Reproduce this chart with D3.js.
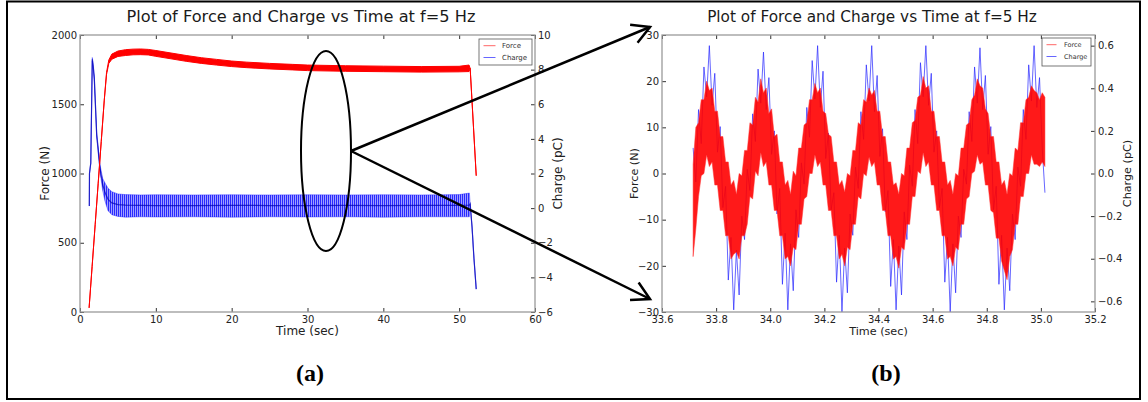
<!DOCTYPE html>
<html>
<head>
<meta charset="utf-8">
<script src="https://cdn.jsdelivr.net/npm/d3@7"></script>
<style>
  body { margin: 0; background: #fff; }
  svg { display: block; font-family: "DejaVu Sans", sans-serif; }
  .tick text { fill: #222; font-size: 10px; font-family: "DejaVu Sans", sans-serif; }
  .tick line { stroke: #333; }
</style>
</head>
<body>
<svg id="canvas"></svg>
<script>
const WIDTH = 1148;
const HEIGHT = 402;

// ---- panel (a): whole test ----
const ticksAx = [0, 10, 20, 30, 40, 50, 60];
const ticksAforce = [0, 500, 1000, 1500, 2000];
const ticksAcharge = [-6, -4, -2, 0, 2, 4, 6, 8, 10];

const forceATime = [1.2, 1.6, 2.0, 2.4, 2.8, 3.2, 3.5, 3.8, 4.2, 5, 6, 7, 8, 9, 10, 12, 14, 16, 18, 20, 22, 25, 28, 30, 35, 40, 45, 50, 51.3, 51.45, 52.25];
const forceAUpper = [30, 330, 630, 930, 1230, 1530, 1730, 1820, 1862, 1884, 1894, 1898, 1899, 1896, 1888, 1870, 1852, 1836, 1824, 1812, 1804, 1795, 1788, 1783, 1778, 1775, 1772, 1774, 1783, 1760, 984];
const forceALower = [30, 330, 630, 930, 1230, 1530, 1715, 1795, 1825, 1845, 1852, 1857, 1858, 1856, 1846, 1828, 1810, 1795, 1783, 1772, 1764, 1755, 1748, 1743, 1738, 1735, 1732, 1734, 1736, 1760, 984];

const chargeATime = [1.23, 1.25, 1.42, 1.62, 1.75, 1.89, 2.2, 2.64, 3.0, 3.3, 3.7, 4.2, 5.0, 6.0, 8, 10, 15, 20, 25, 30, 35, 40, 45, 50, 51.35, 51.45, 51.7, 51.95, 52.25];
const chargeAUpper = [0.12, 2.0, 2.6, 8.7, 8.3, 7.6, 4.4, 2.5, 1.7, 1.45, 1.15, 0.95, 0.82, 0.78, 0.76, 0.77, 0.76, 0.77, 0.76, 0.77, 0.76, 0.77, 0.76, 0.78, 0.87, 0.25, -1.1, -2.9, -4.68];
const chargeALower = [0.12, 2.0, 2.6, 8.5, 8.0, 7.3, 4.1, 2.1, 1.0, 0.4, -0.15, -0.38, -0.48, -0.52, -0.5, -0.51, -0.5, -0.52, -0.5, -0.51, -0.5, -0.52, -0.5, -0.5, -0.5, 0.25, -1.1, -2.9, -4.68];
const chargeAMid = [0.12, 2.0, 2.6, 8.6, 8.15, 7.45, 4.25, 2.3, 1.35, 0.9, 0.5, 0.3, 0.2, 0.17, 0.16, 0.15, 0.15, 0.16, 0.15, 0.15, 0.16, 0.15, 0.16, 0.16, 0.18, 0.25, -1.1, -2.9, -4.68];

// ---- panel (b): zoom 33.7 - 35.0 s ----
const ticksBx = [33.6, 33.8, 34.0, 34.2, 34.4, 34.6, 34.8, 35.0, 35.2];
const ticksBforce = [-30, -20, -10, 0, 10, 20, 30];
const ticksBcharge = [-0.6, -0.4, -0.2, 0.0, 0.2, 0.4, 0.6];

const zoomTime = [
  33.715, 33.725, 33.735, 33.745, 33.755, 33.765, 33.775, 33.785, 33.795, 33.805,
  33.815, 33.825, 33.835, 33.845, 33.855, 33.865, 33.875, 33.885, 33.895, 33.905,
  33.915, 33.925, 33.935, 33.945, 33.955, 33.965, 33.975, 33.985, 33.995, 34.005,
  34.015, 34.025, 34.035, 34.045, 34.055, 34.065, 34.075, 34.085, 34.095, 34.105,
  34.115, 34.125, 34.135, 34.145, 34.155, 34.165, 34.175, 34.185, 34.195, 34.205,
  34.215, 34.225, 34.235, 34.245, 34.255, 34.265, 34.275, 34.285, 34.295, 34.305,
  34.315, 34.325, 34.335, 34.345, 34.355, 34.365, 34.375, 34.385, 34.395, 34.405,
  34.415, 34.425, 34.435, 34.445, 34.455, 34.465, 34.475, 34.485, 34.495, 34.505,
  34.515, 34.525, 34.535, 34.545, 34.555, 34.565, 34.575, 34.585, 34.595, 34.605,
  34.615, 34.625, 34.635, 34.645, 34.655, 34.665, 34.675, 34.685, 34.695, 34.705,
  34.715, 34.725, 34.735, 34.745, 34.755, 34.765, 34.775, 34.785, 34.795, 34.805,
  34.815, 34.825, 34.835, 34.845, 34.855, 34.865, 34.875, 34.885, 34.895, 34.905,
  34.915, 34.925, 34.935, 34.945, 34.955, 34.965, 34.975, 34.985, 34.995, 35.005,
  35.015
];
const zoomCharge = [
  0.12, -0.04, 0.30, 0.14, 0.50, 0.36, 0.60, 0.32, 0.47, 0.10,
  0.22, -0.16, -0.06, -0.50, -0.30, -0.64, -0.36, -0.57, -0.20, -0.31,
  0.02, -0.08, 0.28, 0.15, 0.49, 0.33, 0.57, 0.30, 0.45, 0.09,
  0.20, -0.19, -0.07, -0.52, -0.28, -0.64, -0.33, -0.55, -0.17, -0.30,
  0.05, -0.05, 0.31, 0.17, 0.53, 0.35, 0.60, 0.31, 0.48, 0.07,
  0.19, -0.17, -0.09, -0.51, -0.29, -0.65, -0.35, -0.56, -0.19, -0.29,
  0.03, -0.07, 0.29, 0.16, 0.51, 0.34, 0.60, 0.29, 0.46, 0.08,
  0.21, -0.18, -0.08, -0.53, -0.31, -0.64, -0.34, -0.57, -0.18, -0.31,
  0.04, -0.06, 0.30, 0.14, 0.52, 0.36, 0.60, 0.32, 0.47, 0.10,
  0.20, -0.16, -0.07, -0.51, -0.30, -0.65, -0.33, -0.56, -0.20, -0.30,
  0.02, -0.05, 0.29, 0.15, 0.50, 0.33, 0.59, 0.30, 0.46, 0.09,
  0.22, -0.17, -0.06, -0.52, -0.29, -0.64, -0.35, -0.55, -0.19, -0.31,
  0.03, -0.06, 0.30, 0.16, 0.51, 0.34, 0.60, 0.31, 0.45, 0.12,
  -0.09
];
const zoomForceUpper = [
  2, 10, 11, 16, 16, 20, 18, 18.5, 13.5, 13.5,
  8, 8, 2.5, 2.5, -2.5, -1.5, -4.5, 0, -0.5, 5,
  5, 11, 10.5, 16.5, 15.5, 20.5, 17.5, 18.5, 13, 14,
  8, 8.5, 2.5, 2.5, -2.5, -1.5, -4.5, 0.5, -0.5, 5.5,
  5.5, 10.5, 11, 16, 16, 19.5, 17.5, 18.5, 13.5, 13,
  8.5, 8, 2.5, 2.5, -2.5, -1.5, -4, 0, -0.5, 5,
  5, 11, 10.5, 16, 15.5, 18.5, 17, 18, 13.5, 13.5,
  8, 8, 2.5, 2.5, -2.5, -2, -4.5, 0, -0.5, 5.5,
  5.5, 11, 11.5, 16.5, 17, 21, 18.5, 19, 13.5, 13.5,
  8, 8, 2.5, 2.5, -2.5, -1.5, -4.5, 0, -0.5, 5.5,
  5.5, 10.5, 11, 16, 17, 20.5, 19, 18.5, 14, 13,
  8, 8, 2.5, 2.5, -2.5, -1.5, -4.5, 0, -0.5, 5.5,
  5, 11, 11, 16, 16.5, 19, 18, 17.5, 16, 17.5,
  16.5
];
const zoomForceLower = [
  -18, -12, -5, -0.5, 0, 4, 1.5, 2.5, -2.5, -2.5,
  -8, -8, -13.5, -13.5, -18.5, -17.5, -17, -18.5, -13.5, -13.5,
  -11, -5, -5.5, 0.5, -0.5, 4.5, 1.5, 2.5, -2.5, -2.5,
  -8, -8, -13.5, -13.5, -18.5, -18, -20, -16, -16.5, -11,
  -11, -5.5, -5, 0, 0, 4, 1.5, 2.5, -2.5, -2.5,
  -8, -8, -13.5, -13.5, -18.5, -17.5, -20, -16, -16.5, -11,
  -11, -5, -5.5, 0, -0.5, 3.5, 1.5, 2.5, -2.5, -2.5,
  -8, -8, -13.5, -13.5, -18.5, -18, -20.5, -16, -16.5, -11,
  -11, -5, -5, 0.5, 0, 4.5, 1.5, 2.5, -2.5, -2.5,
  -8, -8, -13.5, -13.5, -18.5, -18, -20, -16, -16.5, -11,
  -11, -5.5, -5, 0, 0.5, 4, 2, 2.5, -2.5, -2.5,
  -8, -8.5, -14, -14, -19, -21, -23, -18, -16.5, -11,
  -11, -5, -5, 0, 0, 4, 2, 2, 1.5, 2.5,
  1.5
];

const TITLE = "Plot of Force and Charge vs Time at f=5 Hz";

const canvas = d3.select("#canvas").attr("width", WIDTH).attr("height", HEIGHT);

const defs = canvas.append("defs");
const hatch = defs.append("pattern")
  .attr("id", "blueHatch")
  .attr("patternUnits", "userSpaceOnUse")
  .attr("width", 2)
  .attr("height", 10);
hatch.append("rect").attr("width", 2).attr("height", 10).attr("fill", "#a0a0ff");
hatch.append("rect").attr("width", 1).attr("height", 10).attr("fill", "#2a2aff");

// panel geometry
const panelA = {
  x: d3.scaleLinear().domain([0, 60]).range([80, 535]),
  yL: d3.scaleLinear().domain([0, 2000]).range([312, 35]),
  yR: d3.scaleLinear().domain([-6, 10]).range([312, 35]),
  xTicks: ticksAx, yLTicks: ticksAforce, yRTicks: ticksAcharge,
  xFmt: d3.format("d"), yLFmt: d3.format("d"), yRFmt: d3.format("d"),
  titleX: 301, titleSize: 16.2, labelSize: 12,
  xLabelY: 335, forceLabelX: 49, chargeLabelX: 562,
  legendFont: 7, legend: { x: 479, y: 39, w: 53, h: 26, line: 12, text: 502 },
  tag: "(a)", tagX: 310,
};
const panelB = {
  x: d3.scaleLinear().domain([33.6, 35.2]).range([662, 1095]),
  yL: d3.scaleLinear().domain([-30, 30]).range([312, 35]),
  yR: d3.scaleLinear().domain([-0.65, 0.65]).range([312, 35]),
  xTicks: ticksBx, yLTicks: ticksBforce, yRTicks: ticksBcharge,
  xFmt: d3.format(".1f"), yLFmt: d3.format("d"), yRFmt: d3.format(".1f"),
  titleX: 872, titleSize: 15.3, labelSize: 11.2,
  xLabelY: 335, forceLabelX: 638, chargeLabelX: 1131,
  legendFont: 6.5, legend: { x: 1042, y: 38, w: 49, h: 28, line: 10, text: 1064 },
  tag: "(b)", tagX: 886,
};

const drawAxes = (p) => {
  const [x0, x1] = p.x.range();
  const [yb, yt] = p.yL.range();

  const gx = canvas.append("g")
    .attr("transform", `translate(0, ${yb})`)
    .call(d3.axisBottom(p.x).tickValues(p.xTicks).tickFormat(p.xFmt).tickSize(-4).tickPadding(4));
  const gt = canvas.append("g")
    .attr("transform", `translate(0, ${yt})`)
    .call(d3.axisTop(p.x).tickValues(p.xTicks).tickFormat("").tickSize(-4));
  const gl = canvas.append("g")
    .attr("transform", `translate(${x0}, 0)`)
    .call(d3.axisLeft(p.yL).tickValues(p.yLTicks).tickFormat(p.yLFmt).tickSize(-4).tickPadding(3));
  const gr = canvas.append("g")
    .attr("transform", `translate(${x1}, 0)`)
    .call(d3.axisRight(p.yR).tickValues(p.yRTicks).tickFormat(p.yRFmt).tickSize(-4).tickPadding(3));
  [gx, gt, gl, gr].forEach((g) => g.select(".domain").remove());

  canvas.append("rect")
    .attr("x", x0).attr("y", yt)
    .attr("width", x1 - x0).attr("height", yb - yt)
    .attr("fill", "none").attr("stroke", "#9a9a9a").attr("stroke-width", 1.3);

  canvas.append("text")
    .attr("x", p.titleX).attr("y", 22)
    .attr("text-anchor", "middle")
    .attr("font-size", p.titleSize).attr("fill", "#1a1a1a")
    .text(TITLE);

  canvas.append("text")
    .attr("x", (x0 + x1) / 2).attr("y", p.xLabelY)
    .attr("text-anchor", "middle")
    .attr("font-size", p.labelSize).attr("fill", "#222")
    .text("Time (sec)");

  canvas.append("text")
    .attr("transform", `translate(${p.forceLabelX}, ${(yb + yt) / 2}) rotate(-90)`)
    .attr("text-anchor", "middle")
    .attr("font-size", p.labelSize).attr("fill", "#222")
    .text("Force (N)");

  canvas.append("text")
    .attr("transform", `translate(${p.chargeLabelX}, ${(yb + yt) / 2}) rotate(-90)`)
    .attr("text-anchor", "middle")
    .attr("font-size", p.labelSize).attr("fill", "#222")
    .text("Charge (pC)");

  canvas.append("text")
    .attr("x", p.tagX).attr("y", 381)
    .attr("text-anchor", "middle")
    .attr("font-family", "'Liberation Serif', 'Times New Roman', serif")
    .attr("font-weight", "bold")
    .attr("font-size", 24)
    .attr("fill", "#000")
    .text(p.tag);
};

const drawLegend = (p) => {
  const L = p.legend;
  const g = canvas.append("g");
  g.append("rect")
    .attr("x", L.x).attr("y", L.y).attr("width", L.w).attr("height", L.h)
    .attr("fill", "#fff").attr("stroke", "#555").attr("stroke-width", 0.8);
  const rows = [
    { name: "Force", color: "#ff0000" },
    { name: "Charge", color: "#0000ff" },
  ];
  rows.forEach((r, i) => {
    const cy = L.y + 6.7 + i * 11.8;
    g.append("line")
      .attr("x1", L.x + 4.5).attr("x2", L.x + 4.5 + L.line)
      .attr("y1", cy).attr("y2", cy)
      .attr("stroke", r.color).attr("stroke-opacity", 0.6).attr("stroke-width", 1);
    g.append("text")
      .attr("x", L.text).attr("y", cy + p.legendFont * 0.36)
      .attr("font-size", p.legendFont).attr("fill", "#333")
      .text(r.name);
  });
};

const drawPanelA = () => {
  const p = panelA;
  const idxF = d3.range(forceATime.length);
  const idxC = d3.range(chargeATime.length);

  const chargeArea = d3.area()
    .x((i) => p.x(chargeATime[i]))
    .y0((i) => p.yR(chargeALower[i]))
    .y1((i) => p.yR(chargeAUpper[i]));
  canvas.append("path")
    .attr("d", chargeArea(idxC))
    .attr("fill", "url(#blueHatch)")
    .attr("stroke", "#2020ff").attr("stroke-width", 0.8).attr("stroke-opacity", 0.55);
  canvas.append("path")
    .attr("d", d3.line().x((i) => p.x(chargeATime[i])).y((i) => p.yR(chargeAMid[i]))(idxC))
    .attr("fill", "none").attr("stroke", "#0000b0").attr("stroke-width", 1.2).attr("stroke-opacity", 0.7);

  const forceArea = d3.area()
    .x((i) => p.x(forceATime[i]))
    .y0((i) => p.yL(forceALower[i]))
    .y1((i) => p.yL(forceAUpper[i]));
  canvas.append("path")
    .attr("d", forceArea(idxF))
    .attr("fill", "#ff0000")
    .attr("stroke", "#ff0000").attr("stroke-width", 1);
};

const drawPanelB = () => {
  const p = panelB;
  const idx = d3.range(zoomTime.length);

  canvas.append("path")
    .attr("d", d3.line().x((i) => p.x(zoomTime[i])).y((i) => p.yR(zoomCharge[i]))(idx))
    .attr("fill", "none")
    .attr("stroke", "#2a2aff").attr("stroke-width", 0.9).attr("stroke-opacity", 0.8);

  const forceArea = d3.area()
    .x((i) => p.x(zoomTime[i]))
    .y0((i) => p.yL(zoomForceLower[i]))
    .y1((i) => p.yL(zoomForceUpper[i]));
  canvas.append("path")
    .attr("d", forceArea(idx))
    .attr("fill", "#ff0000").attr("fill-opacity", 0.9)
    .attr("stroke", "#ff3030").attr("stroke-width", 1).attr("stroke-opacity", 0.5);
};

// ellipse around 30-35 s and the two zoom arrows
const drawAnnotation = () => {
  const g = canvas.append("g").attr("fill", "none").attr("stroke", "#000");
  g.append("ellipse")
    .attr("cx", 326).attr("cy", 151).attr("rx", 25).attr("ry", 100)
    .attr("stroke-width", 2);
  const start = [351, 151];
  [[650, 27], [650, 299]].forEach((tip) => {
    const ang = Math.atan2(start[1] - tip[1], start[0] - tip[0]);
    const spread = 29 * Math.PI / 180;
    const len = 20;
    const b1 = [tip[0] + len * Math.cos(ang + spread), tip[1] + len * Math.sin(ang + spread)];
    const b2 = [tip[0] + len * Math.cos(ang - spread), tip[1] + len * Math.sin(ang - spread)];
    g.append("line")
      .attr("x1", start[0]).attr("y1", start[1]).attr("x2", tip[0]).attr("y2", tip[1])
      .attr("stroke-width", 2.5);
    g.append("path")
      .attr("d", `M${b1[0]},${b1[1]}L${tip[0]},${tip[1]}L${b2[0]},${b2[1]}`)
      .attr("stroke-width", 2.5);
  });
};

drawPanelA();
drawPanelB();
drawAxes(panelA);
drawAxes(panelB);
drawLegend(panelA);
drawLegend(panelB);
drawAnnotation();

canvas.append("rect")
  .attr("x", 7).attr("y", 1.5).attr("width", 1133).attr("height", 397.5)
  .attr("fill", "none").attr("stroke", "#000").attr("stroke-width", 2);
</script>
</body>
</html>
